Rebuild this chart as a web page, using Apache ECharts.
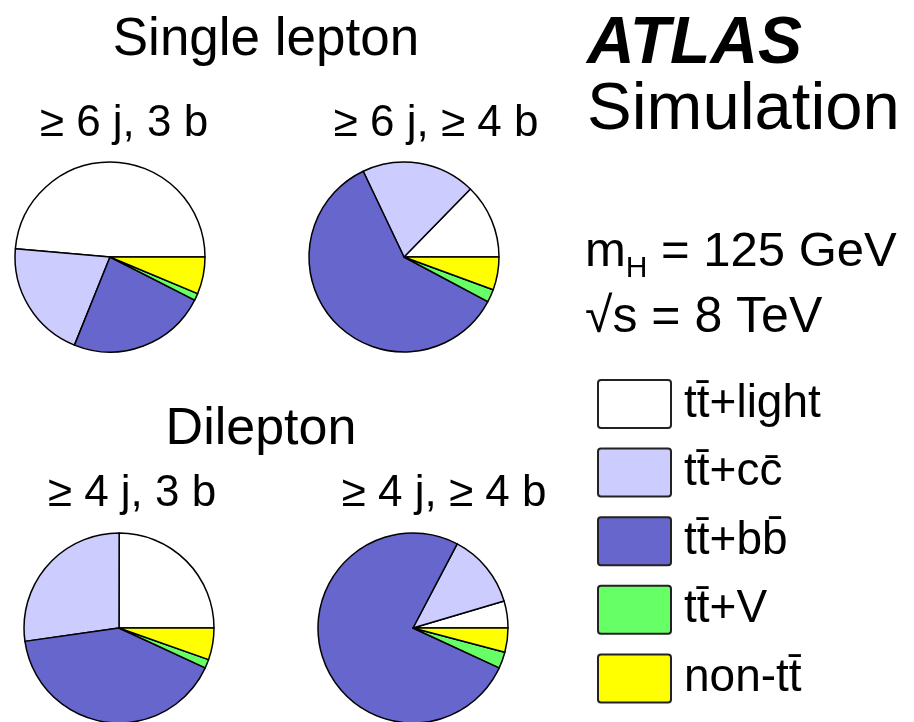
<!DOCTYPE html>
<html>
<head>
<meta charset="utf-8">
<script src="https://cdn.jsdelivr.net/npm/echarts@6/dist/echarts.min.js"></script>
<style>
html,body{margin:0;padding:0;background:#fff;}
#main{width:914px;height:722px;}
</style>
</head>
<body>
<div id="main"></div>
<script>
// Categories (legend order)
var categories = ['tt\u0304+light', 'tt\u0304+cc\u0304', 'tt\u0304+bb\u0304', 'tt\u0304+V', 'non-tt\u0304'];
var colors = ['#ffffff', '#ccccff', '#6666cc', '#66ff66', '#ffff00'];

// Fractions (%) per region, in category order
var slGe6j3b = [48.6, 20.3, 23.6, 1.2, 6.3];
var slGe6jGe4b = [12.7, 19.4, 60.2, 2.2, 5.6];
var dlGe4j3b = [25.0, 27.3, 40.9, 1.5, 5.4];
var dlGe4jGe4b = [4.6, 12.7, 75.8, 2.8, 4.1];

// Text labels
var groupTitles = ['Single lepton', 'Dilepton'];
var regionLabels = ['\u2265 6 j, 3 b', '\u2265 6 j, \u2265 4 b', '\u2265 4 j, 3 b', '\u2265 4 j, \u2265 4 b'];

var FONT = "'Liberation Sans', Arial, Helvetica, sans-serif";

function pieData(vals) {
  return vals.map(function (v, i) {
    return { name: categories[i], value: v, itemStyle: { color: colors[i] } };
  });
}

function pieSeries(vals, center) {
  return {
    type: 'pie',
    center: center,
    radius: [0, 95],
    clockwise: false,
    startAngle: 0,
    silent: true,
    animation: false,
    label: { show: false },
    labelLine: { show: false },
    emphasis: { disabled: true, scale: false },
    itemStyle: { borderColor: '#000', borderWidth: 1.5 },
    data: pieData(vals)
  };
}

function txt(x, y, text, size, extra) {
  var st = {
    text: text,
    fontFamily: FONT,
    fontSize: size,
    fill: '#000',
    textAlign: 'center',
    textVerticalAlign: 'middle'
  };
  if (extra) for (var k in extra) st[k] = extra[k];
  return { type: 'text', x: x, y: y, silent: true, style: st };
}

var chart = echarts.init(document.getElementById('main'), null, { renderer: 'canvas' });
var option = {
  backgroundColor: '#ffffff',
  animation: false,
  legend: {
    orient: 'vertical',
    left: 597,
    top: 379,
    padding: 0,
    itemWidth: 73,
    itemHeight: 48,
    itemGap: 18.6,
    icon: 'path://M3,0 L70,0 Q73,0 73,3 L73,45 Q73,48 70,48 L3,48 Q0,48 0,45 L0,3 Q0,0 3,0 Z',
    selectedMode: false,
    data: categories,
    itemStyle: { borderColor: '#222', borderWidth: 2 },
    textStyle: {
      fontFamily: FONT,
      fontSize: 46,
      color: '#000',
      lineHeight: 48,
      height: 48,
      padding: [0, 0, 0, 8]
    }
  },
  series: [
    pieSeries(slGe6j3b, [110, 257]),
    pieSeries(slGe6jGe4b, [404, 257]),
    pieSeries(dlGe4j3b, [119, 628]),
    pieSeries(dlGe4jGe4b, [413, 628])
  ],
  graphic: [
    txt(266, 40, groupTitles[0], 53),
    txt(124, 124, regionLabels[0], 44),
    txt(436, 124, regionLabels[1], 44),
    txt(261, 430, groupTitles[1], 52),
    txt(132, 494, regionLabels[2], 44),
    txt(444, 494, regionLabels[3], 44),
    txt(587, 45, 'ATLAS', 66, { textAlign: 'left', fontWeight: 'bold', fontStyle: 'italic' }),
    txt(587, 111, 'Simulation', 67, { textAlign: 'left' }),
    txt(585, 252, '{a|m}{s|H}{a| = 125 GeV}', 49, {
      textAlign: 'left',
      rich: {
        a: { fontFamily: FONT, fontSize: 49, fill: '#000' },
        s: { fontFamily: FONT, fontSize: 30, fill: '#000', padding: [34, 0, 0, 0] }
      }
    }),
    txt(585, 318, '\u221As = 8 TeV', 50, { textAlign: 'left' })
  ]
};
chart.setOption(option);
</script>
</body>
</html>
